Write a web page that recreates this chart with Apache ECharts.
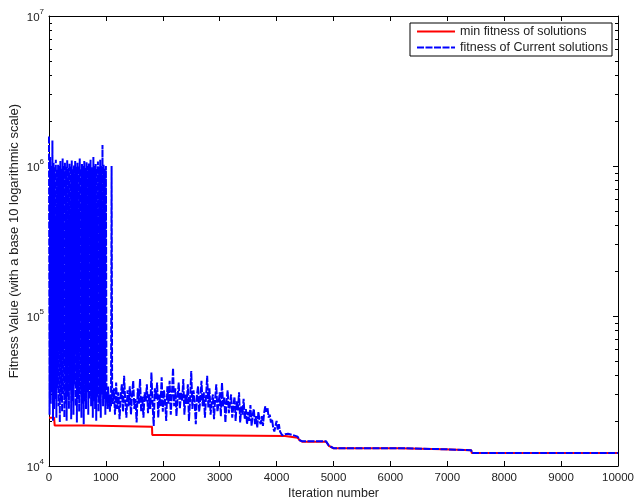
<!DOCTYPE html>
<html>
<head>
<meta charset="utf-8">
<title>fitness</title>
<script src="https://cdn.jsdelivr.net/npm/echarts@6/dist/echarts.min.js"></script>
<style>
    html, body { margin: 0; padding: 0; background: #fff; }
    #main { width: 636px; height: 502px; }
</style>
</head>
<body>
<div id="main"></div>
<script>
// 图例名称
var seriesNames = ['min fitness of solutions', 'fitness of Current solutions'];

// 红线: 最小适应度 (迭代次数, 值)
var minIter = [0, 90, 100, 650, 660, 1810, 1815, 2000, 2010, 4150, 4160, 4370, 4400, 4450, 4870, 4920, 5000, 6140, 6150, 6930, 6940, 7420, 7430, 10000];
var minVal = [21000, 21000, 18600, 18600, 18300, 18300, 16100, 16100, 15850, 15850, 15450, 15450, 14900, 14520, 14520, 13600, 13130, 13130, 12920, 12920, 12730, 12730, 12210, 12210];

// 蓝线前段 0~1110, 每10次迭代一个点
var headStart = 0, headStep = 10;
var headVal = [
    1570000, 22000, 1150000, 26000, 1000000, 31000, 1480000, 20000, 1050000, 24000,
    980000, 28000, 1100000, 21000, 950000, 33000, 1020000, 25000, 1000000, 19500,
    1080000, 27000, 960000, 23000, 1120000, 30000, 1000000, 21000, 1060000, 26000,
    990000, 20000, 1100000, 29000, 970000, 24000, 1040000, 32000, 1000000, 20500,
    1090000, 27000, 950000, 22000, 1010000, 35000, 1080000, 25000, 990000, 19500,
    1050000, 28000, 1000000, 23000, 1120000, 30000, 960000, 21000, 1030000, 26000,
    1000000, 19000, 1080000, 27000, 970000, 24000, 1060000, 31000, 1000000, 22000,
    1040000, 28000, 33000, 1100000, 25000, 30000, 980000, 21000, 1150000, 27000,
    1000000, 24000, 1030000, 20000, 960000, 29000, 1070000, 23000, 990000, 26000,
    1100000, 21000, 1000000, 30000, 1380000, 25000, 1020000, 28000, 960000, 22000,
    1000000, 27000, 31000, 24000, 34000, 26000, 30000, 23000, 28000, 25000,
    1000000, 27000
];

// 蓝线中段 1120~4100, 每20次迭代一个点
var midStart = 1120, midStep = 20;
var midVal = [
    26000, 33000, 22000, 36000, 24000, 31000, 20500, 29000, 35000, 23000, 40000, 27000, 21000, 32000, 25000,
    34000, 22000, 30000, 37000, 24000, 28000, 19500, 33000, 26000, 38000, 23000, 29000, 21000, 31000, 27000,
    35000, 22500, 30000, 24000, 42000, 26000, 18500, 33000, 28000, 36000, 21000, 30000, 25000, 39000, 23000,
    32000, 27000, 20000, 34000, 26000, 37000, 22000, 30000, 45000, 25000, 33000, 21500, 29000, 36000, 24000,
    31000, 27000, 38000, 22000, 30000, 26000, 35000, 20000, 28000, 43000, 24000, 32000, 26500, 19000, 30000,
    34000, 23000, 28000, 37000, 25000, 31000, 21000, 29000, 40000, 24500, 33000, 22000, 27000, 30000, 20500,
    28000, 35000, 23000, 26000, 31000, 21500, 36000, 25000, 29000, 19500, 27000, 32000, 22500, 26000, 30000,
    21000, 25000, 29000, 20000, 27000, 23500, 31000, 19500, 25000, 22000, 28000, 20500, 24000, 19000, 23000,
    20000, 25500, 18500, 22000, 24000, 19000, 21500, 18000, 23000, 20000, 19000, 21500, 18500, 22500, 25000,
    23000, 24500, 21000, 22000, 19500, 20500, 18000, 17000, 18500, 20000, 17500, 19000, 17000, 16500, 16000
];

// 蓝线尾段 (迭代次数, 值)
var tailIter = [4150, 4200, 4280, 4370, 4400, 4450, 4870, 4920, 5000, 6140, 6150, 6930, 6940, 7420, 7430, 10000];
var tailVal = [16300, 16400, 16100, 15700, 14900, 14600, 14600, 13650, 13150, 13150, 12940, 12940, 12750, 12750, 12220, 12220];

// 坐标轴刻度
var yMajor = [10000, 100000, 1000000, 10000000];
var yMinor = [20000, 30000, 40000, 50000, 60000, 70000, 80000, 90000,
    200000, 300000, 400000, 500000, 600000, 700000, 800000, 900000,
    2000000, 3000000, 4000000, 5000000, 6000000, 7000000, 8000000, 9000000];

window.addEventListener('load', function () {
    getCharts();
});

function getCharts() {
    var myChart = echarts.init(document.getElementById('main'));
    var font = 'Liberation Sans, Arial, sans-serif';

    var minData = minIter.map(function (x, i) { return [x, minVal[i]]; });
    var curData = [];
    headVal.forEach(function (v, i) { curData.push([headStart + i * headStep, v]); });
    midVal.forEach(function (v, i) { curData.push([midStart + i * midStep, v]); });
    tailIter.forEach(function (x, i) { curData.push([x, tailVal[i]]); });

    // 主刻度轴(对数)
    function majorAxis(pos, showLabel) {
        return {
            type: 'log',
            logBase: 10,
            min: yMajor[0],
            max: yMajor[yMajor.length - 1],
            position: pos,
            axisLine: { show: true, onZero: false, lineStyle: { color: '#000', width: 1 } },
            axisTick: { show: true, inside: true, length: 5, lineStyle: { color: '#000' } },
            splitLine: { show: false },
            axisLabel: {
                show: showLabel,
                margin: 5,
                formatter: function (v) {
                    return '{b|10}{s|' + Math.round(Math.log10(v)) + '}';
                },
                rich: {
                    b: { fontSize: 11.5, fontFamily: font, color: '#222', verticalAlign: 'bottom', lineHeight: 16 },
                    s: { fontSize: 8, fontFamily: font, color: '#222', verticalAlign: 'top', lineHeight: 16 }
                }
            }
        };
    }
    // 次刻度轴 (以log10为坐标)
    function minorAxis(pos) {
        return {
            type: 'value',
            min: 4,
            max: 7,
            position: pos,
            axisLine: { show: false, onZero: false },
            axisTick: { show: true, inside: true, length: 3, customValues: yMinor.map(Math.log10), lineStyle: { color: '#000' } },
            splitLine: { show: false },
            axisLabel: { show: false }
        };
    }

    var yLeft = majorAxis('left', true);
    yLeft.name = 'Fitness Value (with a base 10 logarithmic scale)';
    yLeft.nameLocation = 'middle';
    yLeft.nameGap = 28;
    yLeft.nameMoveOverlap = false;
    yLeft.nameTextStyle = { fontSize: 13, fontFamily: font, color: '#222' };

    var option = {
        animation: false,
        backgroundColor: '#fff',
        grid: { left: 49, right: 18, top: 16, bottom: 36, outerBoundsMode: 'none' },
        legend: {
            right: 24,
            top: 23,
            orient: 'vertical',
            itemWidth: 38,
            itemHeight: 12,
            itemGap: 3,
            padding: [2, 4, 2, 6],
            borderColor: '#000',
            borderWidth: 1,
            borderRadius: 0,
            backgroundColor: '#fff',
            itemStyle: { opacity: 0 },
            textStyle: { fontSize: 12.5, fontFamily: font, color: '#222' },
            data: seriesNames
        },
        xAxis: [
            {
                type: 'value',
                min: 0,
                max: 10000,
                interval: 1000,
                name: 'Iteration number',
                nameLocation: 'middle',
                nameGap: 21,
                nameMoveOverlap: false,
                nameTextStyle: { fontSize: 12.5, fontFamily: font, color: '#222' },
                axisLine: { show: true, onZero: false, lineStyle: { color: '#000' } },
                axisTick: { inside: true, length: 5, lineStyle: { color: '#000' } },
                splitLine: { show: false },
                axisLabel: {
                    fontSize: 11.5, fontFamily: font, color: '#222', margin: 6,
                    formatter: function (v) { return String(v); }
                }
            },
            {
                type: 'value',
                min: 0,
                max: 10000,
                interval: 1000,
                position: 'top',
                axisLine: { show: true, onZero: false, lineStyle: { color: '#000' } },
                axisTick: { inside: true, length: 5, lineStyle: { color: '#000' } },
                splitLine: { show: false },
                axisLabel: { show: false }
            }
        ],
        yAxis: [
            yLeft,
            majorAxis('right', false),
            minorAxis('left'),
            minorAxis('right')
        ],
        series: [
            {
                name: seriesNames[0],
                type: 'line',
                data: minData,
                symbol: 'none',
                lineStyle: { color: '#ff0000', width: 2 },
                itemStyle: { color: '#ff0000' },
                z: 2
            },
            {
                name: seriesNames[1],
                type: 'line',
                data: curData,
                symbol: 'none',
                lineStyle: { color: '#0000ff', width: 2, type: [7, 1.5] },
                itemStyle: { color: '#0000ff' },
                z: 3
            }
        ]
    };
    myChart.setOption(option);
}
</script>
</body>
</html>
